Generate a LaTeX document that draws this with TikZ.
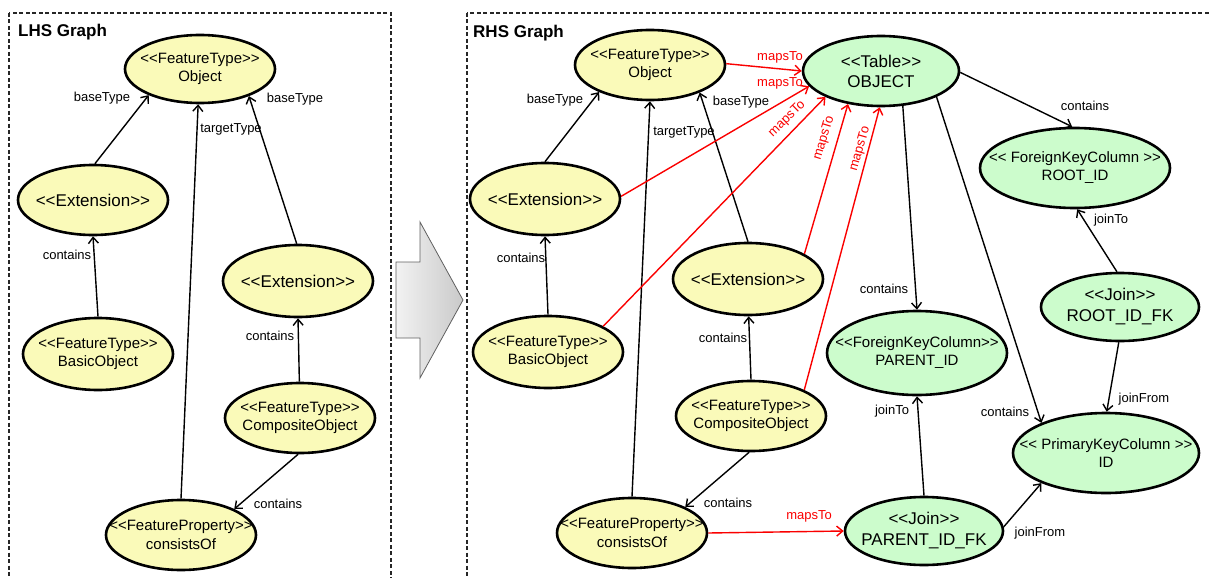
\documentclass[tikz,border=0pt]{standalone}
\usepackage{fontspec}
\setmainfont{Liberation Sans}
\usetikzlibrary{arrows.meta,shapes.geometric,shadings}
\definecolor{ylw}{RGB}{250,250,185}
\definecolor{grn}{RGB}{204,252,204}
\definecolor{mred}{RGB}{250,0,0}
\newcommand\myLt{<\kern0pt<}
\newcommand\myGt{>\kern0pt>}
\tikzset{
  ell/.style={ellipse, draw=black, line width=2.6pt, inner sep=0pt},
  yel/.style={ell, fill=ylw, minimum width=150pt, minimum height=70pt},
  grnn/.style={ell, fill=grn},
  ntxt/.style={font=\fontsize{15}{18.5}\selectfont, align=center, inner sep=0pt},
  btxt/.style={font=\fontsize{17}{21}\selectfont, align=center, inner sep=0pt},
  arr/.style={line width=1.4pt, -{Straight Barb[length=6pt,width=10pt]}},
  rarr/.style={arr, draw=mred},
  lab/.style={font=\fontsize{13}{15}\selectfont, inner sep=0pt},
  rlab/.style={lab, text=mred},
  title/.style={font=\fontsize{17}{20}\selectfont\bfseries, inner sep=0pt, anchor=west},
  framebox/.style={draw=black!85, line width=1.3pt, dash pattern=on 4pt off 2.5pt},
}
\begin{document}
\begin{tikzpicture}[x=1pt,y=-1pt]
\useasboundingbox (0,0) rectangle (1210,578);
\clip (0,0) rectangle (1210,578);
% frames
\draw[framebox] (9,13) rectangle (391,600);
\draw[framebox] (467,13) rectangle (1216,600);
\node[title] (lt) at (18,32) {LHS Graph};
\node[title] (rt) at (473,33) {RHS Graph};
% big arrow
\shadedraw[left color=gray!10, right color=gray!42, draw=gray!75!black, line width=0.8pt]
  (396,262) -- (420,262) -- (420,222) -- (463,300) -- (420,378) -- (420,338) -- (396,338) -- cycle;

% ---------- LHS nodes ----------
\node[yel, minimum height=68pt, label={[ntxt]center:{\myLt FeatureType\myGt\\Object}}] (lo) at (200,69) {};
\node[yel, label={[btxt]center:{\myLt Extension\myGt}}] (le1) at (93,200) {};
\node[yel, minimum height=72pt, label={[btxt]center:{\myLt Extension\myGt}}] (le2) at (298,281) {};
\node[yel, minimum height=72pt, label={[ntxt]center:{\myLt FeatureType\myGt\\BasicObject}}] (lb) at (98,354) {};
\node[yel, label={[ntxt]center:{\myLt FeatureType\myGt\\CompositeObject}}] (lc) at (300,418) {};
\node[yel, label={[ntxt]center:{\myLt FeatureProperty\myGt\\consistsOf}}] (lp) at (181,535) {};

% ---------- LHS edges ----------
\draw[arr] (le1.87) -- (lo.207) node[lab] at (102,98) {baseType};
\draw[arr] (lp.90) -- (lo.267) node[lab] at (231,129) {targetType};
\draw[arr] (le2.92) -- (lo.331) node[lab] at (295,99) {baseType};
\draw[arr] (lb.90) -- (le1.270) node[lab] at (67,255) {contains};
\draw[arr] (lc.91) -- (le2.270) node[lab] at (270,336) {contains};
\draw[arr] (lc.267) -- (lp.26) node[lab] at (278,504) {contains};

% ---------- RHS nodes ----------
\node[yel, label={[ntxt]center:{\myLt FeatureType\myGt\\Object}}] (ro) at (650,65) {};
\node[yel, minimum height=72pt, label={[btxt]center:{\myLt Extension\myGt}}] (re1) at (545,199) {};
\node[yel, minimum height=72pt, label={[btxt]center:{\myLt Extension\myGt}}] (re2) at (748,279) {};
\node[yel, minimum height=72pt, label={[ntxt]center:{\myLt FeatureType\myGt\\BasicObject}}] (rb) at (548,352) {};
\node[yel, label={[ntxt]center:{\myLt FeatureType\myGt\\CompositeObject}}] (rc) at (751,416) {};
\node[yel, label={[ntxt]center:{\myLt FeatureProperty\myGt\\consistsOf}}] (rp) at (632,533) {};

\node[grnn, minimum width=156pt, minimum height=70pt, label={[btxt, font=\fontsize{17}{20}\selectfont]center:{\myLt Table\myGt\\OBJECT}}] (tab) at (881,71) {};
\node[grnn, minimum width=190pt, minimum height=80pt, label={[ntxt, font=\fontsize{15}{18}\selectfont]center:{\myLt{} ForeignKeyColumn \myGt\\ROOT\_ID}}] (fkroot) at (1075,168) {};
\node[grnn, minimum width=158pt, minimum height=68pt, label={[btxt]center:{\myLt Join\myGt\\ROOT\_ID\_FK}}] (jroot) at (1120,307) {};
\node[grnn, minimum width=180pt, minimum height=84pt, label={[ntxt, font=\fontsize{15}{18}\selectfont]center:{\myLt ForeignKeyColumn\myGt\\PARENT\_ID}}] (fkpar) at (917,353) {};
\node[grnn, minimum width=186pt, minimum height=80pt, label={[ntxt, font=\fontsize{15}{18}\selectfont]center:{\myLt{} PrimaryKeyColumn \myGt\\ID}}] (pk) at (1106,453) {};
\node[grnn, minimum width=158pt, minimum height=68pt, label={[btxt]center:{\myLt Join\myGt\\PARENT\_ID\_FK}}] (jpar) at (924,531) {};

% ---------- RHS black edges ----------
\draw[arr] (re1.90) -- (ro.208) node[lab] at (555,100) {baseType};
\draw[arr] (rp.90) -- (ro.270) node[lab] at (684,132) {targetType};
\draw[arr] (re2.90) -- (ro.331) node[lab] at (741,102) {baseType};
\draw[arr] (rb.90) -- (re1.270) node[lab] at (521,258) {contains};
\draw[arr] (rc.90) -- (re2.271) node[lab] at (723,338) {contains};
\draw[arr] (rc.267) -- (rp.26) node[lab] at (728,503) {contains};
\draw[arr] (tab.359) -- (fkroot.94) node[lab] at (1085,106) {contains};
\draw[arr] (tab.302) -- (fkpar.90) node[lab] at (884,289) {contains};
\draw[arr] (tab.335) -- (pk.155) node[lab] at (1005,412) {contains};
\draw[arr] (jroot.95) -- (fkroot.273) node[lab] at (1111,220) {joinTo};
\draw[arr] (jroot.268) -- (pk.89) node[lab] at (1144,399) {joinFrom};
\draw[arr] (jpar.90) -- (fkpar.270) node[lab] at (892,411) {joinTo};
\draw[arr] (jpar.3) -- (pk.205) node[lab] at (1040,533) {joinFrom};

% ---------- red mapsTo edges ----------
\draw[rarr] (ro.1) -- (tab.180) node[rlab] at (780,57) {mapsTo};
\draw[rarr] (re1.2) -- (tab.192) node[rlab] at (780,83) {mapsTo};
\draw[rarr] (rb.25) -- (tab.205) node[rlab, rotate=44] at (787,119) {mapsTo};
\draw[rarr] (re2.24) -- (tab.225) node[rlab, rotate=73] at (824,138) {mapsTo};
\draw[rarr] (rc.26) -- (tab.268) node[rlab, rotate=74] at (860,149) {mapsTo};
\draw[rarr] (rp.0) -- (jpar.180) node[rlab] at (809,516) {mapsTo};
\end{tikzpicture}
\end{document}
